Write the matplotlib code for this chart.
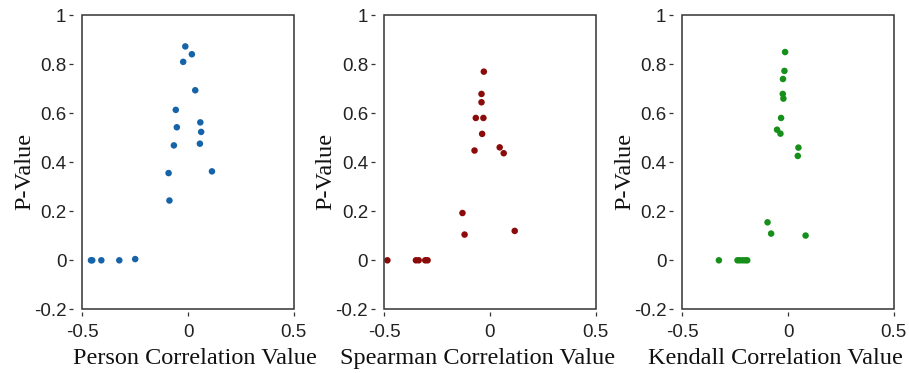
import matplotlib
matplotlib.use("Agg")
import matplotlib.pyplot as plt
from matplotlib.patches import Rectangle

# Data
pearson_x = [-0.013, 0.018, -0.023, 0.034, -0.058, -0.053, 0.058, 0.062, 0.056, -0.067,
             -0.092, 0.113, -0.088, -0.459, -0.453, -0.410, -0.325, -0.250]
pearson_p = [0.873, 0.841, 0.810, 0.694, 0.614, 0.543, 0.563, 0.524, 0.476, 0.469,
             0.356, 0.363, 0.244, 0.0, 0.0, 0.0, 0.0, 0.005]

spearman_x = [-0.028, -0.039, -0.039, -0.066, -0.030, -0.036, -0.072, 0.047, 0.066,
              -0.129, -0.119, 0.118, -0.484, -0.349, -0.336, -0.305, -0.294]
spearman_p = [0.770, 0.679, 0.645, 0.581, 0.581, 0.516, 0.448, 0.461, 0.437,
              0.193, 0.105, 0.120, 0.0, 0.0, 0.0, 0.0, 0.0]

kendall_x = [-0.014, -0.017, -0.024, -0.025, -0.022, -0.033, -0.052, -0.036, 0.049, 0.046,
             -0.097, -0.080, 0.083, -0.327, -0.239, -0.228, -0.215, -0.203, -0.193]
kendall_p = [0.850, 0.773, 0.740, 0.679, 0.660, 0.581, 0.533, 0.517, 0.460, 0.426,
             0.155, 0.109, 0.101, 0.0, 0.0, 0.0, 0.0, 0.0, 0.0]

x_labels = ["Person Correlation Value", "Spearman Correlation Value", "Kendall Correlation Value"]
colors = ["#1563a8", "#8b0a0a", "#16901a"]
x_ticks = [-0.5, 0, 0.5]
x_tick_labels = ["-0.5", "0", "0.5"]
y_ticks = [-0.2, 0, 0.2, 0.4, 0.6, 0.8, 1.0]
y_tick_labels = ["-0.2", "0", "0.2", "0.4", "0.6", "0.8", "1"]

series = [(pearson_x, pearson_p), (spearman_x, spearman_p), (kendall_x, kendall_p)]

fig = plt.figure(figsize=(9.09, 3.73), dpi=100)
lefts = [82.3, 384.0, 682.3]
xlabel_centers = [0.533, 0.441, 0.439]
W, H = 909.0, 373.0
ax_w = 211.5
ax_top, ax_bot = 15.3, 309.3

serif = ["Liberation Serif", "DejaVu Serif"]
sans = ["Liberation Sans", "DejaVu Sans"]
frame_color = "#333333"

for i, (xs, ps) in enumerate(series):
    ax = fig.add_axes([lefts[i] / W, (H - ax_bot) / H, ax_w / W, (ax_bot - ax_top) / H])
    ax.scatter(xs, ps, s=22, color=colors[i], edgecolors="none", zorder=3)
    ax.set_xlim(-0.5, 0.5)
    ax.set_ylim(-0.2, 1.0)
    ax.set_xticks(x_ticks)
    ax.set_xticklabels(x_tick_labels)
    ax.set_yticks(y_ticks)
    ax.set_yticklabels(y_tick_labels)
    # detached ticks: move the (hidden) spines outward, draw the frame separately
    ax.spines["left"].set_position(("outward", 6.5))
    ax.spines["bottom"].set_position(("outward", 2.2))
    for sp in ax.spines.values():
        sp.set_visible(False)
    ax.add_patch(Rectangle((0, 0), 1, 1, transform=ax.transAxes, fill=False,
                           edgecolor=frame_color, linewidth=1.1, clip_on=False, zorder=4))
    ax.tick_params(axis="both", direction="out", labelsize=13.5, labelcolor="#222222",
                   color=frame_color, width=0.9)
    ax.tick_params(axis="y", length=3.2, pad=1.8)
    ax.tick_params(axis="x", length=3.0, pad=5.3)
    for lab in ax.get_xticklabels() + ax.get_yticklabels():
        lab.set_family(sans)
    ax.set_xlabel(x_labels[i], family=serif, fontsize=17.5, color="#111111")
    ax.xaxis.set_label_coords(xlabel_centers[i], -0.133)
    ax.set_ylabel("P-Value", family=serif, fontsize=17.5, color="#111111")
    ax.yaxis.set_label_coords(-0.224, 0.47)

fig.savefig("out.png", dpi=100)
